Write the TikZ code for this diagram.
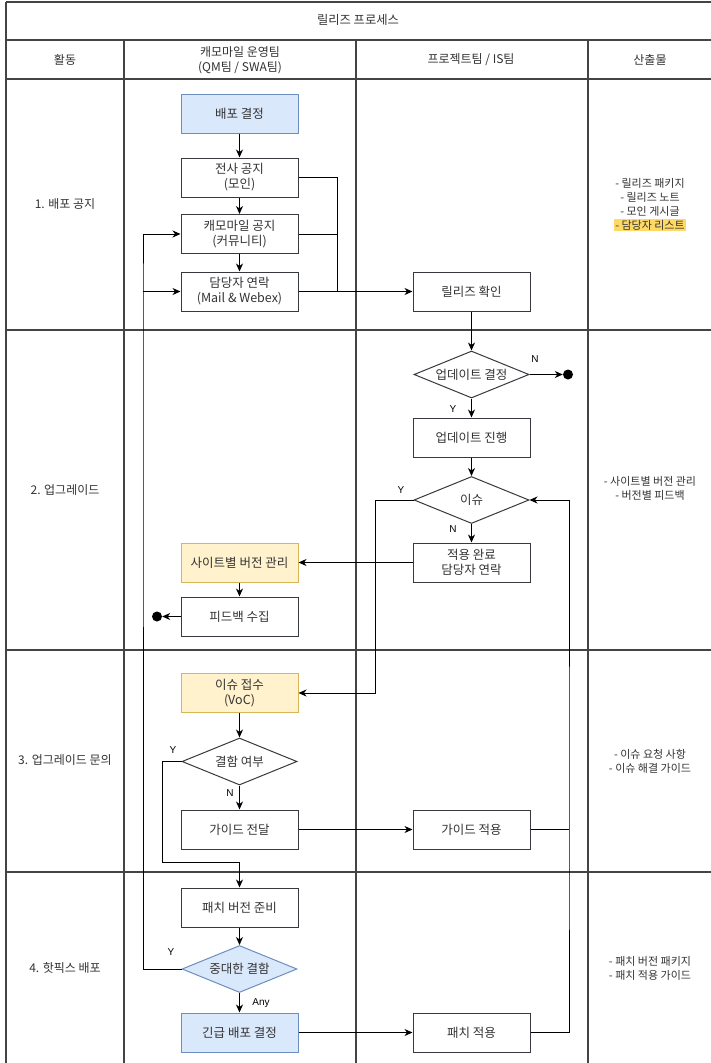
\documentclass[tikz,border=0pt]{standalone}
\usepackage{fontspec}
\setmainfont{Noto Sans CJK KR}
\newfontfamily\latin{Liberation Sans}
\usetikzlibrary{shapes.geometric,arrows.meta}
\definecolor{txt}{HTML}{333333}
\definecolor{bord}{HTML}{36393D}
\definecolor{bluef}{HTML}{DAE8FC}
\definecolor{blued}{HTML}{6C8EBF}
\definecolor{yelf}{HTML}{FFF2CC}
\definecolor{yeld}{HTML}{D6B656}
\definecolor{hl}{HTML}{FFD966}
\definecolor{gridc}{HTML}{444444}
\begin{document}
\begin{tikzpicture}[x=1pt,y=-1pt,
  box/.style={draw=bord, line width=1pt, fill=white, minimum width=117pt, minimum height=39pt, inner sep=0pt, align=center, text=txt, font=\fontsize{12.5}{15}\selectfont},
  bluebox/.style={box, fill=bluef, draw=blued},
  yelbox/.style={box, fill=yelf, draw=yeld},
  dia/.style={diamond, draw=bord, line width=1pt, fill=white, minimum width=115pt, minimum height=47pt, aspect=2.45, inner sep=0pt, text=txt, font=\fontsize{12.5}{15}\selectfont},
  bluedia/.style={dia, fill=bluef, draw=blued},
  conn/.style={line width=1pt, draw=black, -{Stealth[length=8pt,width=7pt,inset=2.5pt]}},
  plain/.style={line width=1pt, draw=black},
  lbl/.style={font=\latin\fontsize{10}{11}\selectfont, text=black, inner sep=0pt},
  enddot/.style={circle, fill=black, minimum size=10pt, inner sep=0pt},
  gridl/.style={line width=1.2pt, draw=gridc},
  hdr/.style={text=txt, font=\fontsize{12}{15}\selectfont, align=center, inner sep=0pt},
  outtxt/.style={text=txt, font=\fontsize{11}{12}\selectfont, inner sep=1pt}
]
\useasboundingbox (0,0) rectangle (711,1063);
\clip (0,0) rectangle (711,1063);
\fill[white] (0,0) rectangle (711,1063);

% table
\draw[gridl] (6,2) -- (715,2);
\draw[gridl] (6,2) -- (6,1070);
\draw[gridl] (6,40) -- (715,40);
\draw[gridl] (6,79) -- (715,79);
\draw[gridl] (6,330) -- (715,330);
\draw[gridl] (6,650) -- (715,650);
\draw[gridl] (6,872) -- (715,872);
\draw[gridl] (124,40) -- (124,1070);
\draw[gridl] (356,40) -- (356,1070);
\draw[gridl] (588,40) -- (588,1070);

% headers
\node[hdr, font=\fontsize{12.3}{15}\selectfont] (title) at (358,20) {릴리즈 프로세스};
\node[hdr] (h1) at (65,60) {활동};
\node[hdr] (h2) at (240,60) {캐모마일 운영팀\\(QM팀 / SWA팀)};
\node[hdr] (h3) at (471,60) {프로젝트팀 / IS팀};
\node[hdr] (h4) at (650,60) {산출물};

% row labels
\node[hdr] (row1) at (65,204) {1. 배포 공지};
\node[hdr] (row2) at (65,490) {2. 업그레이드};
\node[hdr] (row3) at (65,760) {3. 업그레이드 문의};
\node[hdr] (row4) at (65,968) {4. 핫픽스 배포};

% outputs
\node[outtxt] (o1a) at (650,183) {- 릴리즈 패키지};
\node[outtxt] (o1b) at (650,197) {- 릴리즈 노트};
\node[outtxt] (o1c) at (650,211) {- 모인 게시글};
\node[outtxt, fill=hl] (o1d) at (650,225) {- 담당자 리스트};
\node[outtxt] (o2a) at (650,481) {- 사이트별 버전 관리};
\node[outtxt] (o2b) at (650,495) {- 버전별 피드백};
\node[outtxt] (o3a) at (650,754) {- 이슈 요청 사항};
\node[outtxt] (o3b) at (650,768) {- 이슈 해결 가이드};
\node[outtxt] (o4a) at (650,961) {- 패치 버전 패키지};
\node[outtxt] (o4b) at (650,975) {- 패치 적용 가이드};

% nodes
\node[bluebox] (dec1) at (239.5,113.5) {배포 결정};
\node[box] (n1) at (239.5,177.5) {전사 공지\\(모인)};
\node[box] (n2) at (239.5,234) {캐모마일 공지\\(커뮤니티)};
\node[box] (n3) at (239.5,291.5) {담당자 연락\\(Mail \& Webex)};
\node[box] (r1) at (471.5,291.5) {릴리즈 확인};
\node[dia] (d1) at (471.5,374.5) {업데이트 결정};
\node[enddot] (end1) at (568,374.5) {};
\node[box] (r2) at (471.5,437.5) {업데이트 진행};
\node[dia] (d2) at (471.5,500) {이슈};
\node[box] (r3) at (471.5,562.5) {적용 완료\\담당자 연락};
\node[yelbox] (y1) at (239.5,562.5) {사이트별 버전 관리};
\node[box] (y2) at (239.5,616.5) {피드백 수집};
\node[enddot] (end2) at (157,616.5) {};
\node[yelbox] (v1) at (239.5,693) {이슈 접수\\(VoC)};
\node[dia] (d3) at (239.5,761.5) {결함 여부};
\node[box] (g1) at (239.5,829.5) {가이드 전달};
\node[box] (g2) at (471.5,829.5) {가이드 적용};
\node[box] (p1) at (239.5,907.5) {패치 버전 준비};
\node[bluedia] (d4) at (239.5,969) {중대한 결함};
\node[bluebox] (e1) at (239.5,1032.5) {긴급 배포 결정};
\node[box] (p2) at (471.5,1032.5) {패치 적용};

% connector coordinates
\coordinate (mrg) at (337,291.5);
\coordinate (lft) at (143,291.5);
\coordinate (rgt) at (569,829.5);

% connectors
\draw[conn] (dec1) -- (n1);
\draw[conn] (n1) -- (n2);
\draw[conn] (n2) -- (n3);
\draw[plain] (n1.east) -| (mrg);
\draw[plain] (n2.east) -| (mrg);
\draw[conn] (n3.east) -- (r1.west);
\draw[conn] (r1) -- (d1);
\draw[conn] (d1.east) -- (end1.west);
\draw[conn] (d1.south) -- (r2.north);
\draw[conn] (r2) -- (d2);
\draw[conn] (d2.south) -- (r3.north);
\draw[conn] (d2.west) -- (375,500) |- (v1.east);
\draw[conn] (r3.west) -- (y1.east);
\draw[conn] (y1) -- (y2);
\draw[conn] (y2.west) -- (end2.east);
\draw[conn] (v1.south) -- (d3.north);
\draw[conn] (d3.south) -- (g1.north);
\draw[conn] (d3.west) -- (162,761.5) -- (162,862) -- (239.5,862) -- (p1.north);
\draw[conn] (g1.east) -- (g2.west);
\draw[plain] (g2.east) -- (rgt);
\draw[conn] (p2.east) -| (rgt) |- (d2.east);
\draw[conn] (p1) -- (d4);
\draw[conn] (d4.south) -- (e1.north);
\draw[conn] (d4.west) -| (lft) |- (n2.west);
\draw[conn] (lft) -- (n3.west);
\draw[conn] (e1.east) -- (p2.west);

% labels
\node[lbl] (lN1) at (535,359) {N};
\node[lbl] (lY1) at (453,409) {Y};
\node[lbl] (lY2) at (401,490) {Y};
\node[lbl] (lN2) at (453,529) {N};
\node[lbl] (lY3) at (173,750) {Y};
\node[lbl] (lN3) at (230,793) {N};
\node[lbl] (lY4) at (171,952) {Y};
\node[lbl] (lAny) at (261,1003) {Any};
\end{tikzpicture}
\end{document}
